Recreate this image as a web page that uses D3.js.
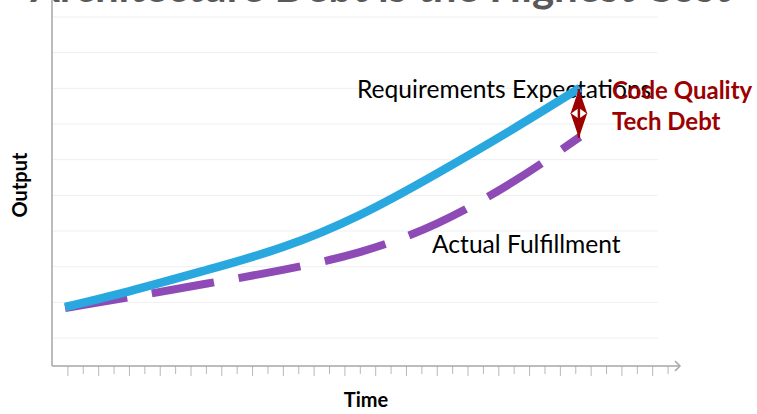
<!DOCTYPE html>
<html>
<head>
<meta charset="utf-8">
<script src="https://cdn.jsdelivr.net/npm/d3@7"></script>
<style>
  html, body { margin: 0; padding: 0; background: #ffffff; }
  svg { display: block; font-family: Lato, "Open Sans", sans-serif; }
</style>
</head>
<body>
<svg id="chart" width="757" height="414"></svg>
<script>
// Time points along the curves and the two output series
const time = [0.85, 5, 10, 15, 20, 25, 30, 34.3];
const expectations = [1.87, 2.31, 2.90, 3.55, 4.45, 5.61, 6.87, 8.01];
const fulfillment = [1.84, 2.14, 2.52, 2.91, 3.41, 4.21, 5.39, 6.64];

// Axis decoration
const gridValues = [1, 2, 3, 4, 5, 6, 7, 8, 9, 10];
const tickValues = d3.range(1, 41);

// Text
const titleText = "Architecture Debt is the Highest Cost";
const xTitle = "Time";
const yTitle = "Output";
const expectLabel = "Requirements Expectations";
const fulfilLabel = "Actual Fulfillment";
const gapLabels = ["Code Quality", "Tech Debt"];

const svg = d3.select("#chart");

const left = 52, bottom = 366, gridRight = 658, axisEnd = 680;

const x = d3.scaleLinear().domain([0, 40]).range([left, 667.6]);
const y = d3.scaleLinear().domain([0, 10]).range([373.7, 17]);

// title running off the top edge
const title = svg.append("text")
  .attr("y", 2)
  .attr("font-size", 42)
  .attr("font-weight", 700)
  .attr("fill", "#595959")
  .text(titleText);
{
  const gi = titleText.indexOf("Highest") + 2;
  const node = title.node();
  const off = node.getSubStringLength(0, gi) + node.getSubStringLength(gi, 1) / 2;
  title.attr("x", 543 - off);
}

// horizontal gridlines
svg.append("g")
  .selectAll("line")
  .data(gridValues)
  .join("line")
  .attr("x1", left).attr("x2", gridRight)
  .attr("y1", d => y(d)).attr("y2", d => y(d))
  .attr("stroke", "#efefef")
  .attr("stroke-width", 1);

// x axis with small ticks hanging below
const xAxis = svg.append("g")
  .attr("transform", `translate(0,${bottom})`)
  .call(d3.axisBottom(x).tickValues(tickValues).tickSize(10).tickFormat(""));
xAxis.select(".domain").remove();
xAxis.selectAll(".tick line")
  .attr("stroke", "#b8b8b8")
  .attr("stroke-width", 1)
  .attr("y2", d => d % 2 ? 10 : 8);

svg.append("line")
  .attr("x1", left).attr("x2", axisEnd)
  .attr("y1", bottom).attr("y2", bottom)
  .attr("stroke", "#a6a6a6").attr("stroke-width", 1.5);
svg.append("path")
  .attr("d", `M${axisEnd - 5},${bottom - 5}L${axisEnd},${bottom}L${axisEnd - 5},${bottom + 5}`)
  .attr("fill", "none").attr("stroke", "#a6a6a6").attr("stroke-width", 1.5);

// y axis
svg.append("line")
  .attr("x1", left).attr("x2", left)
  .attr("y1", 0).attr("y2", bottom)
  .attr("stroke", "#a6a6a6").attr("stroke-width", 1.5);

// axis titles
svg.append("text")
  .attr("x", 366).attr("y", 407)
  .attr("text-anchor", "middle")
  .attr("font-size", 20).attr("font-weight", 700)
  .attr("fill", "#000")
  .text(xTitle);
svg.append("text")
  .attr("transform", "translate(27,185) rotate(-90)")
  .attr("text-anchor", "middle")
  .attr("font-size", 20).attr("font-weight", 700)
  .attr("fill", "#000")
  .text(yTitle);

// series labels
svg.append("text")
  .attr("x", 357).attr("y", 98)
  .attr("font-size", 24.6)
  .attr("fill", "#000")
  .text(expectLabel);
svg.append("text")
  .attr("x", 432).attr("y", 253)
  .attr("font-size", 24.6)
  .attr("fill", "#000")
  .text(fulfilLabel);

// curves
const line = d3.line()
  .x(d => x(d[0]))
  .y(d => y(d[1]))
  .curve(d3.curveNatural);

svg.append("path")
  .datum(time.map((t, i) => [t, fulfillment[i]]))
  .attr("d", line)
  .attr("fill", "none")
  .attr("stroke", "#8e4bb5")
  .attr("stroke-width", 8)
  .attr("stroke-dasharray", "63 25");

svg.append("path")
  .datum(time.map((t, i) => [t, expectations[i]]))
  .attr("d", line)
  .attr("fill", "none")
  .attr("stroke", "#29a8df")
  .attr("stroke-width", 8.5);

// double arrow spanning the gap between the two curves at the last point
const red = "#9c0000";
const defs = svg.append("defs");
defs.append("marker")
  .attr("id", "head")
  .attr("markerUnits", "userSpaceOnUse")
  .attr("viewBox", "-27 -10 28 20")
  .attr("refX", 0).attr("refY", 0)
  .attr("markerWidth", 28).attr("markerHeight", 20)
  .attr("orient", "auto-start-reverse")
  .append("path")
  .attr("d", "M0,0L-25,-8.5L-19,0L-25,8.5Z")
  .attr("fill", red);

const last = time.length - 1;
svg.append("line")
  .attr("x1", x(time[last]) - 1).attr("x2", x(time[last]) - 1)
  .attr("y1", y(expectations[last]) + 1)
  .attr("y2", y(fulfillment[last]) + 1)
  .attr("stroke", red).attr("stroke-width", 2.5)
  .attr("marker-start", "url(#head)")
  .attr("marker-end", "url(#head)");

// gap labels
svg.append("g")
  .selectAll("text")
  .data(gapLabels)
  .join("text")
  .attr("x", 612)
  .attr("y", (d, i) => 99 + i * 31)
  .attr("font-size", 24)
  .attr("font-weight", 700)
  .attr("fill", red)
  .text(d => d);
</script>
</body>
</html>
